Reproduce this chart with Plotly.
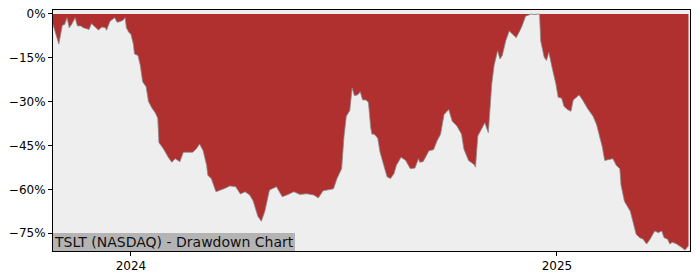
import plotly.graph_objects as go

dates = [
    "2023-10-26", "2023-10-31", "2023-11-03", "2023-11-05", "2023-11-07", "2023-11-09",
    "2023-11-11", "2023-11-14", "2023-11-16", "2023-11-19", "2023-11-21", "2023-11-23",
    "2023-11-26", "2023-11-28", "2023-12-01", "2023-12-04", "2023-12-07", "2023-12-10",
    "2023-12-11", "2023-12-14", "2023-12-18", "2023-12-20", "2023-12-22", "2023-12-25",
    "2023-12-27", "2023-12-28", "2023-12-30", "2024-01-01", "2024-01-03", "2024-01-04",
    "2024-01-07", "2024-01-09", "2024-01-11", "2024-01-14", "2024-01-16", "2024-01-19",
    "2024-01-22", "2024-01-24", "2024-01-25", "2024-01-29", "2024-02-02", "2024-02-05",
    "2024-02-08", "2024-02-12", "2024-02-15", "2024-02-23", "2024-02-26", "2024-02-29",
    "2024-03-03", "2024-03-06", "2024-03-07", "2024-03-10", "2024-03-14", "2024-03-19",
    "2024-03-22", "2024-03-26", "2024-03-31", "2024-04-04", "2024-04-08", "2024-04-12",
    "2024-04-15", "2024-04-19", "2024-04-22", "2024-04-25", "2024-04-27", "2024-04-29",
    "2024-05-05", "2024-05-10", "2024-05-14", "2024-05-20", "2024-05-25", "2024-05-31",
    "2024-06-06", "2024-06-10", "2024-06-14", "2024-06-23", "2024-06-26", "2024-06-30",
    "2024-07-02", "2024-07-04", "2024-07-07", "2024-07-09", "2024-07-11", "2024-07-14",
    "2024-07-16", "2024-07-18", "2024-07-21", "2024-07-23", "2024-07-25", "2024-07-26",
    "2024-07-28", "2024-07-31", "2024-08-02", "2024-08-05", "2024-08-08", "2024-08-11",
    "2024-08-14", "2024-08-16", "2024-08-20", "2024-08-24", "2024-08-28", "2024-09-01",
    "2024-09-04", "2024-09-05", "2024-09-08", "2024-09-13", "2024-09-17", "2024-09-20",
    "2024-09-23", "2024-09-26", "2024-09-30", "2024-10-03", "2024-10-07", "2024-10-11",
    "2024-10-13", "2024-10-17", "2024-10-22", "2024-10-23", "2024-10-25", "2024-10-28",
    "2024-10-31", "2024-11-03", "2024-11-06", "2024-11-08", "2024-11-11", "2024-11-13",
    "2024-11-15", "2024-11-18", "2024-11-21", "2024-11-24", "2024-11-27", "2024-11-30",
    "2024-12-02", "2024-12-05", "2024-12-10", "2024-12-12", "2024-12-17", "2024-12-18",
    "2024-12-21", "2024-12-23", "2024-12-25", "2024-12-28", "2024-12-31", "2025-01-02",
    "2025-01-05", "2025-01-07", "2025-01-10", "2025-01-13", "2025-01-15", "2025-01-20",
    "2025-01-23", "2025-01-27", "2025-02-01", "2025-02-04", "2025-02-07", "2025-02-09",
    "2025-02-11", "2025-02-18", "2025-02-21", "2025-02-24", "2025-02-25", "2025-02-28",
    "2025-03-05", "2025-03-07", "2025-03-10", "2025-03-13", "2025-03-16", "2025-03-19",
    "2025-03-22", "2025-03-26", "2025-03-29", "2025-04-01", "2025-04-03", "2025-04-06",
    "2025-04-08", "2025-04-10", "2025-04-13", "2025-04-18", "2025-04-21", "2025-04-24",
]

drawdown = [
    -3.6, -10.3, -3.9, -3.6, -1.3, -4.7,
    -3.6, -1.3, -4.1, -4.1, -4.7, -5.0,
    -5.3, -3.3, -4.4, -5.5, -4.5, -4.7,
    -5.6, -2.5, -1.3, -2.8, -2.7, -2.2,
    -1.3, -4.7, -6.2, -7.0, -10.3, -13.7,
    -14.2, -17.6, -23.2, -24.9, -29.9, -32.2,
    -33.9, -35.7, -44.0, -46.2, -49.0, -50.7,
    -49.5, -50.5, -47.3, -47.3, -46.2, -44.5,
    -46.8, -51.8, -55.2, -56.3, -60.8, -60.2,
    -59.6, -58.8, -59.1, -61.6, -60.8, -61.9,
    -64.0, -69.2, -70.9, -67.5, -64.1, -60.2,
    -59.1, -62.5, -61.9, -60.8, -61.7, -61.5,
    -61.9, -62.9, -60.5, -59.8, -56.3, -52.9,
    -42.0, -35.0, -33.0, -25.3, -28.0, -27.6,
    -26.6, -29.4, -29.4, -30.3, -39.0, -41.1,
    -41.1, -42.5, -47.3, -51.2, -55.7, -56.3,
    -54.6, -51.8, -49.0, -50.1, -52.9, -52.7,
    -49.5, -50.7, -50.5, -46.8, -46.4, -43.4,
    -41.1, -34.4, -32.7, -36.7, -38.3, -41.1,
    -46.2, -50.1, -51.6, -52.4, -41.7, -39.5,
    -37.2, -40.6, -23.8, -17.6, -12.6, -15.4,
    -14.2, -9.2, -5.8, -7.0, -8.1, -5.8,
    -4.1, -0.8, 0.0, -0.2, 0.0, -9.2,
    -14.8, -15.9, -13.1, -18.7, -23.8, -28.5,
    -28.8, -31.6, -32.7, -33.3, -29.4, -27.7,
    -29.4, -32.2, -35.0, -37.8, -42.8, -45.6,
    -50.1, -49.5, -51.8, -52.9, -58.5, -64.1,
    -67.5, -70.3, -75.3, -76.5, -77.0, -78.7,
    -77.0, -74.2, -74.8, -74.2, -76.5, -77.0,
    -78.7, -78.1, -78.5, -79.8, -80.7, -79.3,
]

y_tick_vals = [0, -15, -30, -45, -60, -75]
y_tick_text = ["0%", "\u221215%", "\u221230%", "\u221245%", "\u221260%", "\u221275%"]
x_tick_vals = ["2024-01-01", "2025-01-01"]
x_tick_text = ["2024", "2025"]
title_text = "TSLT (NASDAQ) - Drawdown Chart"

fig = go.Figure()
fig.add_trace(go.Scatter(
    x=dates, y=drawdown, mode="lines", fill="tozeroy",
    fillcolor="#b03030", line=dict(color="#8c8c8c", width=0.8),
    hoverinfo="skip", showlegend=False,
))

axis_common = dict(
    showgrid=False, zeroline=False, showline=True, linecolor="black",
    linewidth=1, mirror=True, ticks="outside", ticklen=4, tickwidth=1,
    tickcolor="black", tickfont=dict(family="DejaVu Sans", size=12, color="black"),
)

fig.update_layout(
    width=700, height=280,
    margin=dict(l=53, r=10, t=7, b=28),
    paper_bgcolor="white", plot_bgcolor="#eeeeee",
    xaxis=dict(range=["2023-10-26", "2025-04-25 07:00"], tickvals=x_tick_vals,
               ticktext=x_tick_text, **axis_common),
    yaxis=dict(range=[-81.06, 1.35], tickvals=y_tick_vals, ticktext=y_tick_text,
               **axis_common),
    annotations=[dict(
        text=title_text, xref="paper", yref="paper", x=0, y=0,
        xanchor="left", yanchor="bottom", showarrow=False,
        font=dict(family="DejaVu Sans", size=14, color="#111111"),
        bgcolor="#b4b4b4", borderpad=1, borderwidth=0,
    )],
)

fig.write_html("out.html")
